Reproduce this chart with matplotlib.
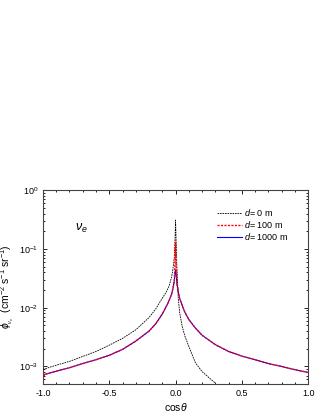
import matplotlib
matplotlib.use('Agg')
import matplotlib.pyplot as plt
from matplotlib.ticker import MultipleLocator, LogLocator, NullFormatter

plt.rcParams['font.family'] = ['Liberation Sans', 'DejaVu Sans']
plt.rcParams['mathtext.fontset'] = 'custom'
plt.rcParams['mathtext.rm'] = 'Liberation Sans'
plt.rcParams['mathtext.it'] = 'Liberation Sans:italic'

# d = 0 m
cos0 = [-1.0, -0.9, -0.8, -0.7, -0.6, -0.5, -0.4, -0.3, -0.2, -0.15, -0.1, -0.07,
        -0.05, -0.03, -0.02, -0.01, -0.005, 0.0, 0.005, 0.01, 0.02, 0.03, 0.05,
        0.07, 0.1, 0.15, 0.2, 0.25, 0.3]
phi0 = [8.9e-4, 1.05e-3, 1.22e-3, 1.48e-3, 1.8e-3, 2.3e-3, 3.0e-3, 4.2e-3, 6.8e-3,
        9.5e-3, 1.45e-2, 1.85e-2, 2.3e-2, 3.3e-2, 4.5e-2, 7.0e-2, 0.12, 0.31, 0.12,
        0.05, 0.015, 8.5e-3, 4.8e-3, 3.3e-3, 2.2e-3, 1.15e-3, 8.2e-4, 6.5e-4, 5.2e-4]

# d = 100 m and d = 1000 m
cosd = [-1.0, -0.99, -0.9, -0.8, -0.7, -0.6, -0.5, -0.4, -0.3, -0.2, -0.15, -0.1,
        -0.07, -0.05, -0.03, -0.02, -0.01, -0.005, 0.0, 0.005, 0.01, 0.02, 0.03,
        0.05, 0.07, 0.1, 0.15, 0.2, 0.3, 0.4, 0.5, 0.6, 0.7, 0.8, 0.9, 1.0]
phi100 = [6.0e-4, 7.3e-4, 8.3e-4, 9.5e-4, 1.12e-3, 1.3e-3, 1.55e-3, 1.95e-3, 2.7e-3,
          4.0e-3, 5.3e-3, 7.8e-3, 1.05e-2, 1.3e-2, 1.7e-2, 2.1e-2, 2.8e-2, 0.05,
          0.13, 0.05, 2.6e-2, 1.9e-2, 1.45e-2, 1.1e-2, 8.4e-3, 6.3e-3, 4.5e-3,
          3.4e-3, 2.35e-3, 1.8e-3, 1.5e-3, 1.3e-3, 1.12e-3, 1.0e-3, 8.8e-4, 7.9e-4]
phi1000 = [6.0e-4, 7.3e-4, 8.3e-4, 9.5e-4, 1.12e-3, 1.3e-3, 1.55e-3, 1.95e-3, 2.7e-3,
           4.0e-3, 5.3e-3, 7.8e-3, 1.05e-2, 1.3e-2, 1.7e-2, 2.1e-2, 2.8e-2, 0.036,
           0.044, 0.036, 2.6e-2, 1.9e-2, 1.45e-2, 1.1e-2, 8.4e-3, 6.3e-3, 4.5e-3,
           3.4e-3, 2.35e-3, 1.8e-3, 1.5e-3, 1.3e-3, 1.12e-3, 1.0e-3, 8.8e-4, 7.9e-4]

fig = plt.figure(figsize=(3.23, 4.18), dpi=100)
ax = fig.add_axes([0.133, 0.081, 0.821, 0.464])

ax.plot(cos0, phi0, color='black', linestyle=(0, (2, 1)), linewidth=0.6, label='$d$= 0 m', zorder=3)
ax.plot(cosd, phi100, color='red', linestyle=(0, (1.5, 1)), linewidth=1.0, label='$d$= 100 m', zorder=3)
ax.plot(cosd, phi1000, color='blue', linestyle='-', linewidth=0.8, label='$d$= 1000 m', zorder=2)

ax.set_yscale('log')
ax.set_xlim(-1.0, 1.0)
ax.set_ylim(5e-4, 1.0)

ax.xaxis.set_major_locator(MultipleLocator(0.5))
ax.xaxis.set_minor_locator(MultipleLocator(0.1))
ax.yaxis.set_major_locator(LogLocator(base=10, numticks=10))
ax.yaxis.set_minor_locator(LogLocator(base=10, subs=range(2, 10), numticks=10))
ax.yaxis.set_minor_formatter(NullFormatter())
ax.xaxis.set_major_formatter(plt.FuncFormatter(lambda v, p: '%.1f' % v))

ax.tick_params(which='both', direction='in', top=True, right=True, labelsize=6.5, width=0.6)
ax.tick_params(which='major', length=3)
ax.tick_params(which='minor', length=1.6)
for s in ax.spines.values():
    s.set_linewidth(0.8)
    s.set_color('#444444')

ax.set_xlabel(r'cos$\it{\theta}$', fontsize=7.5, labelpad=2)
ax.set_ylabel(r'$\phi_{_{\nu_e}}$  (cm$^{-2}$ s$^{-1}$ sr$^{-1}$)', fontsize=7.5, labelpad=2)

ax.text(-0.76, 0.2, r'$\nu_e$', fontsize=9)

ax.legend(loc='upper right', bbox_to_anchor=(0.955, 0.955), frameon=False, fontsize=6.5,
          handlelength=2.8, handletextpad=0.2, labelspacing=0.12)

fig.savefig('out.png', dpi=100)
